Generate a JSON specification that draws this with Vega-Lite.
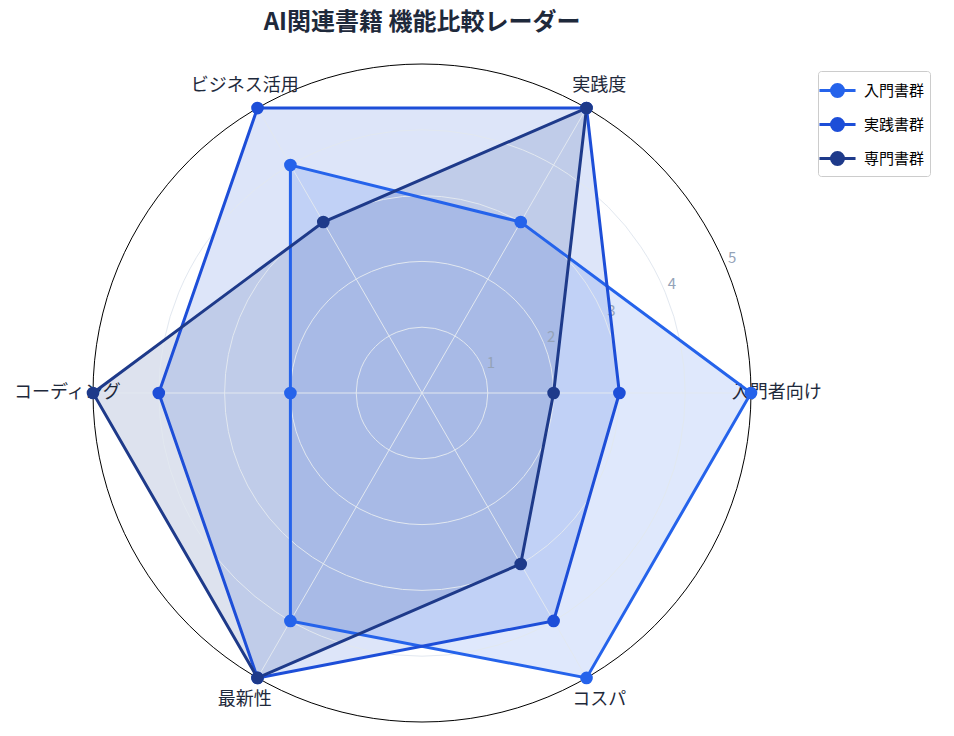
{
  "$schema": "https://vega.github.io/schema/vega-lite/v6.json",
  "width": 658,
  "height": 658,
  "autosize": {"type": "none"},
  "padding": {"left": 93, "top": 64, "right": 203, "bottom": 14},
  "background": "white",
  "config": {
    "view": {"stroke": null},
    "font": "Noto Sans CJK JP",
    "legend": {
      "title": null,
      "orient": "none",
      "legendX": 725,
      "legendY": 7,
      "padding": 5,
      "fillColor": "white",
      "strokeColor": "#cccccc",
      "cornerRadius": 3,
      "labelFont": "Noto Sans CJK JP",
      "labelFontSize": 15,
      "labelColor": "#000000",
      "labelOffset": 12,
      "rowPadding": 7,
      "symbolType": "M-1.42,0L1.42,0M0.47,0A0.47,0.47,0,1,1,-0.47,0A0.47,0.47,0,1,1,0.47,0Z",
      "symbolSize": 645,
      "symbolStrokeWidth": 3
    }
  },
  "title": {
    "text": "AI関連書籍 機能比較レーダー",
    "fontSize": 24,
    "fontWeight": "bold",
    "color": "#1e293b",
    "font": "Noto Sans CJK JP",
    "anchor": "middle",
    "offset": 27
  },
  "datasets": {
    "scores": [
      {"series": "入門書群", "axis": "入門者向け", "value": 5},
      {"series": "入門書群", "axis": "実践度", "value": 3},
      {"series": "入門書群", "axis": "ビジネス活用", "value": 4},
      {"series": "入門書群", "axis": "コーディング", "value": 2},
      {"series": "入門書群", "axis": "最新性", "value": 4},
      {"series": "入門書群", "axis": "コスパ", "value": 5},
      {"series": "実践書群", "axis": "入門者向け", "value": 3},
      {"series": "実践書群", "axis": "実践度", "value": 5},
      {"series": "実践書群", "axis": "ビジネス活用", "value": 5},
      {"series": "実践書群", "axis": "コーディング", "value": 4},
      {"series": "実践書群", "axis": "最新性", "value": 5},
      {"series": "実践書群", "axis": "コスパ", "value": 4},
      {"series": "専門書群", "axis": "入門者向け", "value": 2},
      {"series": "専門書群", "axis": "実践度", "value": 5},
      {"series": "専門書群", "axis": "ビジネス活用", "value": 3},
      {"series": "専門書群", "axis": "コーディング", "value": 5},
      {"series": "専門書群", "axis": "最新性", "value": 5},
      {"series": "専門書群", "axis": "コスパ", "value": 3}
    ],
    "rings": [{"r": 1}, {"r": 2}, {"r": 3}, {"r": 4}, {"r": 5}],
    "axes": [
      {"axis": "入門者向け"},
      {"axis": "実践度"},
      {"axis": "ビジネス活用"},
      {"axis": "コーディング"},
      {"axis": "最新性"},
      {"axis": "コスパ"}
    ]
  },
  "layer": [
    {
      "data": {"name": "scores"},
      "transform": [
        {"calculate": "indexof(['入門者向け','実践度','ビジネス活用','コーディング','最新性','コスパ'], datum.axis)", "as": "idx"},
        {"calculate": "datum.value * cos(datum.idx * PI / 3)", "as": "px"},
        {"calculate": "datum.value * sin(datum.idx * PI / 3)", "as": "py"}
      ],
      "mark": {"type": "line", "interpolate": "linear-closed", "fillOpacity": 0.15, "strokeOpacity": 0},
      "encoding": {
        "x": {"field": "px", "type": "quantitative", "scale": {"domain": [-5, 5], "nice": false, "zero": false}, "axis": null},
        "y": {"field": "py", "type": "quantitative", "scale": {"domain": [-5, 5], "nice": false, "zero": false}, "axis": null},
        "order": {"field": "idx", "type": "quantitative"},
        "detail": {"field": "series", "type": "nominal"},
        "fill": {
          "field": "series", "type": "nominal",
          "scale": {"domain": ["入門書群", "実践書群", "専門書群"], "range": ["#2563eb", "#1d4ed8", "#1e3a8a"]},
          "legend": {
            "encode": {
              "symbols": {
                "update": {
                  "fill": {"scale": "fill", "field": "value"},
                  "stroke": {"scale": "fill", "field": "value"},
                  "fillOpacity": {"value": 1},
                  "strokeOpacity": {"value": 1},
                  "opacity": {"value": 1},
                  "strokeWidth": {"value": 3}
                }
              }
            }
          }
        }
      }
    },
    {
      "data": {"name": "rings"},
      "transform": [
        {"calculate": "0", "as": "cx"}
      ],
      "mark": {"type": "point", "shape": "circle", "filled": false, "strokeWidth": 1, "opacity": 1},
      "encoding": {
        "x": {"field": "cx", "type": "quantitative", "scale": {"domain": [-5, 5], "nice": false, "zero": false}, "axis": null},
        "y": {"field": "cx", "type": "quantitative", "scale": {"domain": [-5, 5], "nice": false, "zero": false}, "axis": null},
        "size": {"field": "r", "type": "quantitative", "scale": {"type": "pow", "exponent": 2, "domain": [0, 5], "range": [0, 432964]}, "legend": null},
        "stroke": {"condition": {"test": "datum.r == 5", "value": "#000000"}, "value": "#e2e8f0"}
      }
    },
    {
      "data": {"name": "axes"},
      "transform": [
        {"calculate": "indexof(['入門者向け','実践度','ビジネス活用','コーディング','最新性','コスパ'], datum.axis)", "as": "idx"},
        {"calculate": "0", "as": "cx"},
        {"calculate": "5 * cos(datum.idx * PI / 3)", "as": "ex"},
        {"calculate": "5 * sin(datum.idx * PI / 3)", "as": "ey"},
        {"calculate": "5.39 * cos(datum.idx * PI / 3)", "as": "lx"},
        {"calculate": "5.39 * sin(datum.idx * PI / 3)", "as": "ly"}
      ],
      "layer": [
        {
          "mark": {"type": "rule", "color": "#e2e8f0", "strokeWidth": 1},
          "encoding": {
            "x": {"field": "cx", "type": "quantitative", "scale": {"domain": [-5, 5], "nice": false, "zero": false}, "axis": null},
            "y": {"field": "cx", "type": "quantitative", "scale": {"domain": [-5, 5], "nice": false, "zero": false}, "axis": null},
            "x2": {"field": "ex"},
            "y2": {"field": "ey"}
          }
        },
        {
          "mark": {"type": "text", "fontSize": 18, "color": "#1e293b", "align": "center", "baseline": "middle", "font": "Noto Sans CJK JP"},
          "encoding": {
            "x": {"field": "lx", "type": "quantitative", "scale": {"domain": [-5, 5], "nice": false, "zero": false}, "axis": null},
            "y": {"field": "ly", "type": "quantitative", "scale": {"domain": [-5, 5], "nice": false, "zero": false}, "axis": null},
            "text": {"field": "axis", "type": "nominal"}
          }
        }
      ]
    },
    {
      "data": {"name": "rings"},
      "transform": [
        {"calculate": "(datum.r + 0.14) * cos(23.5 * PI / 180)", "as": "tx"},
        {"calculate": "(datum.r + 0.14) * sin(23.5 * PI / 180)", "as": "ty"}
      ],
      "mark": {"type": "text", "fontSize": 15, "color": "#94a3b8", "align": "center", "baseline": "middle", "font": "Noto Sans CJK JP"},
      "encoding": {
        "x": {"field": "tx", "type": "quantitative", "scale": {"domain": [-5, 5], "nice": false, "zero": false}, "axis": null},
        "y": {"field": "ty", "type": "quantitative", "scale": {"domain": [-5, 5], "nice": false, "zero": false}, "axis": null},
        "text": {"field": "r", "type": "quantitative"}
      }
    },
    {
      "data": {"name": "scores"},
      "transform": [
        {"calculate": "indexof(['入門者向け','実践度','ビジネス活用','コーディング','最新性','コスパ'], datum.axis)", "as": "idx"},
        {"calculate": "datum.value * cos(datum.idx * PI / 3)", "as": "px"},
        {"calculate": "datum.value * sin(datum.idx * PI / 3)", "as": "py"}
      ],
      "mark": {"type": "line", "interpolate": "linear-closed", "strokeWidth": 3, "point": {"filled": true, "size": 160, "opacity": 1}},
      "encoding": {
        "x": {"field": "px", "type": "quantitative", "scale": {"domain": [-5, 5], "nice": false, "zero": false}, "axis": null},
        "y": {"field": "py", "type": "quantitative", "scale": {"domain": [-5, 5], "nice": false, "zero": false}, "axis": null},
        "order": {"field": "idx", "type": "quantitative"},
        "color": {
          "field": "series", "type": "nominal",
          "scale": {"domain": ["入門書群", "実践書群", "専門書群"], "range": ["#2563eb", "#1d4ed8", "#1e3a8a"]},
          "legend": {
            "encode": {
              "symbols": {
                "update": {
                  "fill": {"scale": "fill", "field": "value"},
                  "stroke": {"scale": "fill", "field": "value"},
                  "fillOpacity": {"value": 1},
                  "strokeOpacity": {"value": 1},
                  "opacity": {"value": 1},
                  "strokeWidth": {"value": 3}
                }
              }
            }
          }
        }
      }
    }
  ]
}
